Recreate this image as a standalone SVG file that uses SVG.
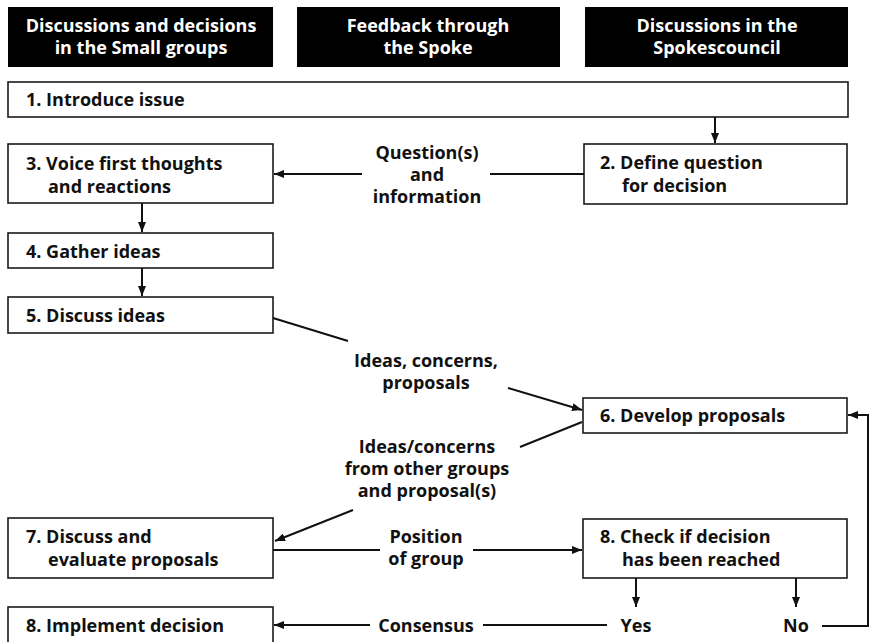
<svg xmlns="http://www.w3.org/2000/svg" width="872" height="642" viewBox="0 0 872 642">
<style>
.hdr rect{fill:#000}
.hdr text{fill:#fff;font-family:"Open Sans","Noto Sans",sans-serif;font-weight:bold;font-size:18px;text-anchor:middle}
.node rect{fill:#fff;stroke:#1a1a1a;stroke-width:1.6}
.node text,.lbl{fill:#111;font-family:"Open Sans","Noto Sans",sans-serif;font-weight:bold;font-size:18px}
.lbl{text-anchor:middle}
#connectors line,#connectors path{stroke:#111;stroke-width:2;fill:none}
.arr{marker-end:url(#ah)}
</style>
<defs>
<marker id="ah" viewBox="0 0 10 8" refX="10" refY="4" markerWidth="10" markerHeight="8" markerUnits="userSpaceOnUse" orient="auto">
<path d="M0,0 L10,4 L0,8 Z" fill="#111"/>
</marker>
</defs>
<rect width="872" height="642" fill="#fff"/>

<g id="header-small-groups" class="hdr"><rect x="8" y="7" width="265" height="60"/><text x="141" y="32">Discussions and decisions</text><text x="141" y="54">in the Small groups</text></g>
<g id="header-spoke" class="hdr"><rect x="297" y="7" width="263" height="60"/><text x="428" y="32">Feedback through</text><text x="428" y="54">the Spoke</text></g>
<g id="header-spokescouncil" class="hdr"><rect x="585" y="7" width="263" height="60"/><text x="717" y="32">Discussions in the</text><text x="717" y="54">Spokescouncil</text></g>

<g id="n1" class="node"><rect x="8" y="82" width="840" height="35"/><text x="26" y="106">1. Introduce issue</text></g>
<g id="n2" class="node"><rect x="584" y="144" width="263" height="60"/><text x="600" y="169">2. Define question</text><text x="622" y="192">for decision</text></g>
<g id="n3" class="node"><rect x="8" y="144" width="265" height="59"/><text x="26" y="170">3. Voice first thoughts</text><text x="48" y="193">and reactions</text></g>
<g id="n4" class="node"><rect x="8" y="233" width="265" height="35"/><text x="26" y="258">4. Gather ideas</text></g>
<g id="n5" class="node"><rect x="8" y="297" width="265" height="36"/><text x="26" y="322">5. Discuss ideas</text></g>
<g id="n6" class="node"><rect x="583" y="398" width="264" height="35"/><text x="600" y="422">6. Develop proposals</text></g>
<g id="n7" class="node"><rect x="8" y="518" width="265" height="60"/><text x="26" y="543">7. Discuss and</text><text x="48" y="566">evaluate proposals</text></g>
<g id="n8check" class="node"><rect x="583" y="519" width="264" height="59"/><text x="600" y="543">8. Check if decision</text><text x="622" y="566">has been reached</text></g>
<g id="n8impl" class="node"><rect x="8" y="607" width="265" height="40"/><text x="26" y="632">8. Implement decision</text></g>

<g id="connectors">
<line class="arr" x1="715" y1="117" x2="715" y2="143"/>
<line class="arr" x1="142" y1="203" x2="142" y2="232"/>
<line class="arr" x1="142" y1="268" x2="142" y2="296"/>
<line x1="584" y1="174" x2="490" y2="174"/>
<line class="arr" x1="362" y1="174" x2="274" y2="174"/>
<line x1="273" y1="318" x2="348" y2="341"/>
<line class="arr" x1="508" y1="388" x2="582" y2="410"/>
<line x1="582" y1="422" x2="520" y2="447"/>
<line class="arr" x1="353" y1="510" x2="275" y2="541"/>
<line x1="273" y1="550" x2="380" y2="550"/>
<line class="arr" x1="473" y1="550" x2="582" y2="550"/>
<line class="arr" x1="636" y1="578" x2="636" y2="607"/>
<line class="arr" x1="796" y1="578" x2="796" y2="607"/>
<line x1="483" y1="625" x2="607" y2="625"/>
<line class="arr" x1="370" y1="625" x2="274" y2="625"/>
<path class="arr" d="M822,626 H868 V415 H848"/>
</g>

<g id="labels">
<text class="lbl" x="427" y="159">Question(s)</text>
<text class="lbl" x="427" y="181">and</text>
<text class="lbl" x="427" y="203">information</text>
<text class="lbl" x="426" y="367">Ideas, concerns,</text>
<text class="lbl" x="426" y="389">proposals</text>
<text class="lbl" x="427" y="453">Ideas/concerns</text>
<text class="lbl" x="427" y="475">from other groups</text>
<text class="lbl" x="427" y="497">and proposal(s)</text>
<text class="lbl" x="426" y="543">Position</text>
<text class="lbl" x="426" y="565">of group</text>
<text class="lbl" x="426" y="632">Consensus</text>
<text class="lbl" x="636" y="632">Yes</text>
<text class="lbl" x="796" y="632">No</text>
</g>
</svg>
